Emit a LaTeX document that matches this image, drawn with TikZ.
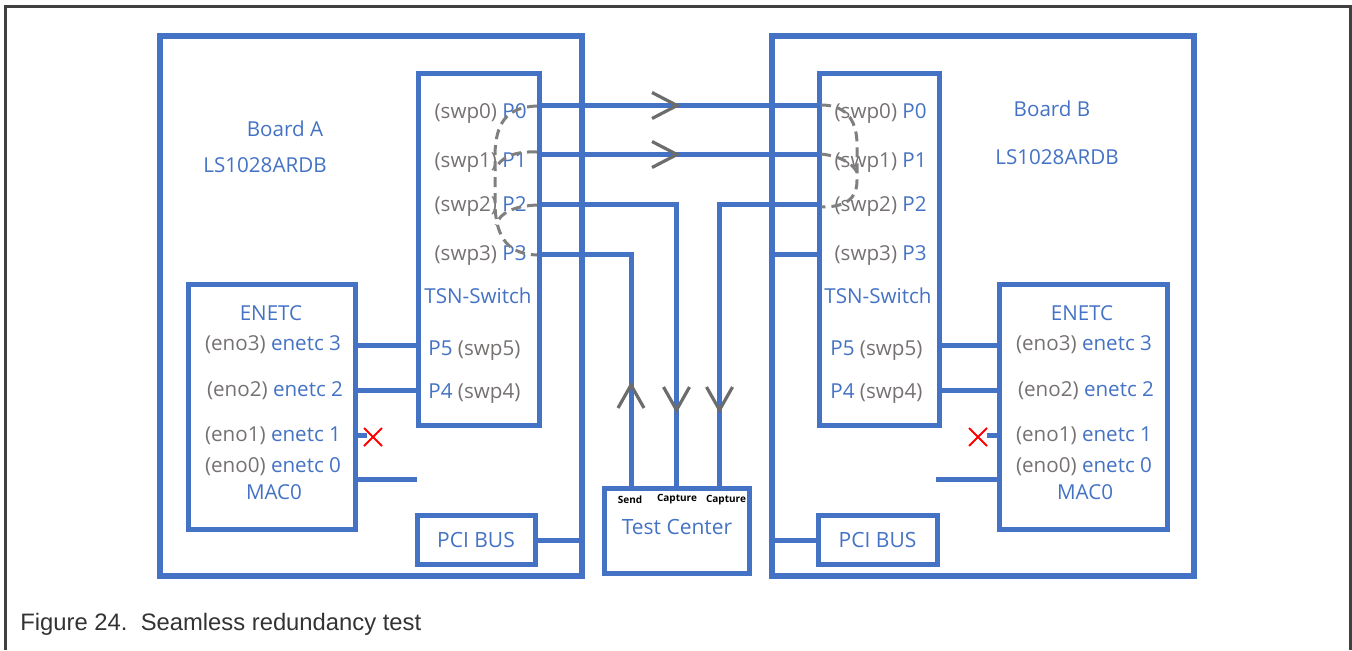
\documentclass[tikz,border=0pt]{standalone}
\usepackage{fontspec}
\setmainfont{Open Sans}
\newfontfamily\capfont{Liberation Sans}
\usetikzlibrary{positioning}
\definecolor{boxblue}{HTML}{4472C4}
\definecolor{portgray}{HTML}{767171}
\definecolor{dashgray}{HTML}{7F7F7F}
\definecolor{framegray}{HTML}{404040}
\tikzset{
  board/.style={draw=boxblue, line width=3pt, inner sep=0pt},
  unit/.style={draw=boxblue, line width=2.5pt, inner sep=0pt},
  wire/.style={draw=boxblue, line width=2.5pt},
  chevron/.style={draw=dashgray!85!black, line width=1.6pt},
  link/.style={draw=dashgray, line width=1.5pt, dash pattern=on 5pt off 3pt},
  lbl/.style={text=boxblue, font=\fontsize{10.3}{12}\selectfont, inner sep=0pt},
  big/.style={text=boxblue, font=\fontsize{10.5}{12}\selectfont, inner sep=0pt},
  tiny/.style={text=black, font=\fontsize{5}{6}\selectfont\bfseries, inner sep=0pt},
  cross/.style={draw=red, line width=1pt}
}
\newcommand{\sw}[1]{\textcolor{portgray}{#1}}

\begin{document}
\begin{tikzpicture}[x=0.5pt, y=-0.5pt]
    \useasboundingbox (0,0) rectangle (1352,650);
    % Frame
    \draw[framegray, line width=1.5pt] (5,650) -- (5,6) -- (1350.5,6) -- (1350.5,650);

    % Boxes
    \node[board, minimum width=211.25pt, minimum height=270pt] (brdA) at (371,306) {};
    \node[board, minimum width=211pt, minimum height=270pt] (brdB) at (983,306) {};
    \node[unit, minimum width=60.25pt, minimum height=176pt] (swA) at (479,249) {};
    \node[unit, minimum width=60pt, minimum height=176pt] (swB) at (879.5,249) {};
    \node[unit, minimum width=83.25pt, minimum height=122.25pt] (enA) at (272,407) {};
    \node[unit, minimum width=84pt, minimum height=122.25pt] (enB) at (1083.5,407) {};
    \node[unit, big, minimum width=59pt, minimum height=24.75pt] (pciA) at (476,540) {PCI BUS};
    \node[unit, big, minimum width=59.5pt, minimum height=24.75pt] (pciB) at (877.5,540) {PCI BUS};
    \node[unit, minimum width=72.5pt, minimum height=42.75pt] (test) at (677,531) {};

    % Labels
    \node[lbl] (nameA) at (285,129) {Board A};
    \node[lbl] (typeA) at (265,165) {LS1028ARDB};
    \node[lbl] (nameB) at (1052,109) {Board B};
    \node[lbl] (typeB) at (1057,157) {LS1028ARDB};
    \node[lbl, anchor=base east] (pA0) at (527,118.5) {\sw{(swp0)} P0};
    \node[lbl, anchor=base east] (pA1) at (527,167.5) {\sw{(swp1)} P1};
    \node[lbl, anchor=base east] (pA2) at (527,211.5) {\sw{(swp2)} P2};
    \node[lbl, anchor=base east] (pA3) at (527,260.5) {\sw{(swp3)} P3};
    \node[lbl, anchor=base east] (pB0) at (927,118.5) {\sw{(swp0)} P0};
    \node[lbl, anchor=base east] (pB1) at (927,167.5) {\sw{(swp1)} P1};
    \node[lbl, anchor=base east] (pB2) at (927,211.5) {\sw{(swp2)} P2};
    \node[lbl, anchor=base east] (pB3) at (927,260.5) {\sw{(swp3)} P3};
    \node[lbl] (tsnA) at (478,296) {TSN-Switch};
    \node[lbl] (tsnB) at (878,296) {TSN-Switch};
    \node[lbl, anchor=base west] (pA5) at (428,355) {P5 \sw{(swp5)}};
    \node[lbl, anchor=base west] (pA4) at (428,398.5) {P4 \sw{(swp4)}};
    \node[lbl, anchor=base west] (pB5) at (830,355) {P5 \sw{(swp5)}};
    \node[lbl, anchor=base west] (pB4) at (830,398.5) {P4 \sw{(swp4)}};
    \node[lbl] (enAt) at (271,313) {ENETC};
    \node[lbl] (eA3) at (273,345) {\sw{(eno3)} enetc 3};
    \node[lbl] (eA2) at (275,391) {\sw{(eno2)} enetc 2};
    \node[lbl] (eA1) at (273,436) {\sw{(eno1)} enetc 1};
    \node[lbl] (eA0) at (273,467) {\sw{(eno0)} enetc 0};
    \node[lbl] (macA) at (274,492) {MAC0};
    \node[lbl] (enBt) at (1082,313) {ENETC};
    \node[lbl] (eB3) at (1084,345) {\sw{(eno3)} enetc 3};
    \node[lbl] (eB2) at (1086,391) {\sw{(eno2)} enetc 2};
    \node[lbl] (eB1) at (1084,436) {\sw{(eno1)} enetc 1};
    \node[lbl] (eB0) at (1084,467) {\sw{(eno0)} enetc 0};
    \node[lbl] (macB) at (1085,492) {MAC0};
    \node[big] (testl) at (677,527) {Test Center};
    \node[tiny] (send) at (630,500) {Send};
    \node[tiny] (capA) at (677,499) {Capture};
    \node[tiny] (capB) at (726,500) {Capture};

    % Free ends
    \coordinate (xA) at (367,435.5);
    \coordinate (xB) at (987,435.5);
    \coordinate (freeA) at (417,479.5);
    \coordinate (freeB) at (936,479.5);

    % Wires
    \draw[wire] (swA.east |- 0,105.5) -- (swB.west |- 0,105.5);
    \draw[wire] (swA.east |- 0,154.5) -- (swB.west |- 0,154.5);
    \draw[wire] (swA.east |- 0,204.5) -| (test.north -| 676.5,0);
    \draw[wire] (swA.east |- 0,254.5) -| (test.north -| 631,0);
    \draw[wire] (swB.west |- 0,204.5) -| (test.north -| 719.5,0);
    \draw[wire] (swB.west |- 0,254.5) -- (brdB.west |- 0,254.5);
    \draw[wire] (enA.east |- 0,345) -- (swA.west |- 0,345);
    \draw[wire] (enA.east |- 0,390.5) -- (swA.west |- 0,390.5);
    \draw[wire] (enA.east |- 0,435.5) -- (xA);
    \draw[wire] (enA.east |- 0,479.5) -- (freeA);
    \draw[wire] (swB.east |- 0,345) -- (enB.west |- 0,345);
    \draw[wire] (swB.east |- 0,390.5) -- (enB.west |- 0,390.5);
    \draw[wire] (enB.west |- 0,435.5) -- (xB);
    \draw[wire] (enB.west |- 0,479.5) -- (freeB);
    \draw[wire] (pciA.east) -- (brdA.east |- pciA.east);
    \draw[wire] (pciB.west) -- (brdB.west |- pciB.west);

    % Direction marks
    \draw[chevron] (652,92.5) -- (677,105.5) -- (652,118.5);
    \draw[chevron] (652,141.5) -- (677,154.5) -- (652,167.5);
    \draw[chevron] (618,408) -- (631,385) -- (644,408);
    \draw[chevron] (663.5,387) -- (676.5,410) -- (689.5,387);
    \draw[chevron] (706.5,387) -- (719.5,410) -- (732.5,387);

    % Disabled ports
    \draw[cross] (364,428) -- (382,446) (364,446) -- (382,428);
    \draw[cross] (969,428) -- (987,446) (969,446) -- (987,428);

    % Redundancy links
    \draw[link] (537,106) .. controls (505,107) and (496,125) .. (495,153) -- (495,205) .. controls (496,240) and (510,254) .. (537,255);
    \draw[link] (537,152) .. controls (515,151) and (500,157) .. (495,170);
    \draw[link] (537,205) .. controls (515,206) and (500,212) .. (496,225);
    \draw[link] (821,105) .. controls (850,105) and (857,125) .. (857,145) -- (857,180) .. controls (857,200) and (845,207) .. (821,207);
    \draw[link] (821,154) .. controls (840,156) and (852,163) .. (857,172);

    % Caption
    \node[anchor=base west, inner sep=0pt, text=black!80, font=\capfont\fontsize{11.9}{14}\selectfont] (cap) at (20,630) {Figure 24.\ \ Seamless redundancy test};
\end{tikzpicture}
\end{document}
